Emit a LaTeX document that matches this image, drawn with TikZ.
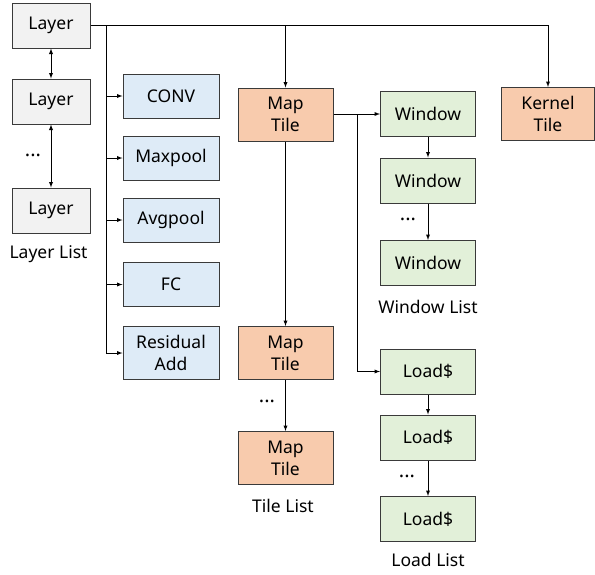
\documentclass[tikz,border=0pt]{standalone}
\usepackage{fontspec}
\setmainfont{Noto Sans}
\usepackage{xcolor}
\usetikzlibrary{arrows,
	calc,
	positioning}
\definecolor{layergray}{HTML}{F2F2F2}
\definecolor{opblue}{HTML}{DEEBF7}
\definecolor{tileorange}{HTML}{F8CBAD}
\definecolor{listgreen}{HTML}{E2F0D9}
\definecolor{edgegray}{HTML}{3A3A3A}

\begin{document}
\begin{tikzpicture}[x=1pt, y=-1pt, >=latex,
	txt/.style={font=\fontsize{17.5}{22}\selectfont, inner sep=0pt},
	box/.style={txt, draw=edgegray, line width=1pt, align=center, minimum height=45pt},
	layerbox/.style={box, fill=layergray, minimum width=78pt},
	opbox/.style={box, fill=opblue, minimum width=96pt, minimum height=44pt},
	tilebox/.style={box, fill=tileorange, minimum width=95pt, minimum height=53pt},
	winbox/.style={box, fill=listgreen, minimum width=95pt},
	link/.style={line width=0.9pt},
	dots/.style={font=\fontsize{20}{22}\selectfont\bfseries, inner sep=0pt}]
	\useasboundingbox (0,0) rectangle (595,574);
	% layer list
	\node[layerbox] (layer1) at (51,25.5) {Layer};
	\node[layerbox] (layer2) at (51,101.5) {Layer};
	\node[layerbox] (layer3) at (51,210.5) {Layer};
	\node[dots] (layerdots) at (33,155) {...};
	\node[txt] (layerlist) at (48.5,254) {Layer List};
	\draw[link, <->] (layer1) -- (layer2);
	\draw[link, <->] (layer2) -- (layer3);
	% layer types
	\foreach \name/\y/\label in {conv/96/CONV, maxpool/158/Maxpool, avgpool/220/Avgpool, fc/284.5/FC}
		\node[opbox] (\name) at (171,\y) {\label};
	\node[opbox, minimum height=53pt] (resadd) at (171,353) {Residual\\Add};
	% tiles
	\node[tilebox] (map1) at (285.5,114.5) {Map\\Tile};
	\node[tilebox] (map2) at (285.5,353) {Map\\Tile};
	\node[tilebox] (map3) at (285.5,458) {Map\\Tile};
	\node[dots] (mapdots) at (267,401) {...};
	\node[txt] (tilelist) at (283,506) {Tile List};
	\node[tilebox, minimum width=93pt] (kernel) at (548,114) {Kernel\\Tile};
	% window list
	\node[winbox] (win1) at (428,114) {Window};
	\node[winbox] (win2) at (428,180.5) {Window};
	\node[winbox] (win3) at (428,263) {Window};
	\node[dots] (windots) at (408,219) {...};
	\node[txt] (winlist) at (428,307) {Window List};
	% load list
	\node[winbox] (load1) at (428,371.5) {Load\$};
	\node[winbox] (load2) at (428,437.5) {Load\$};
	\node[winbox] (load3) at (428,519) {Load\$};
	\node[dots] (loaddots) at (407,476) {...};
	\node[txt] (loadlist) at (428,560) {Load List};
	% connectors
	\coordinate (trunk) at (106,25.5);
	\draw[link, ->] (layer1.east) -| (kernel.north);
	\draw[link, ->] (map1.north |- layer1.east) -- (map1.north);
	\draw[link, ->] (trunk) |- (resadd.west);
	\foreach \name in {conv, maxpool, avgpool, fc}
		\draw[link, ->] (trunk |- \name.west) -- (\name.west);
	\draw[link, ->] (map1) -- (map2);
	\draw[link, ->] (map2) -- (map3);
	\coordinate (split) at (357.5,114);
	\draw[link, ->] (map1.east |- win1.west) -- (win1.west);
	\draw[link, ->] (split) |- (load1.west);
	\draw[link, ->] (win1) -- (win2);
	\draw[link, ->] (win2) -- (win3);
	\draw[link, ->] (load1) -- (load2);
	\draw[link, ->] (load2) -- (load3);
\end{tikzpicture}
\end{document}
